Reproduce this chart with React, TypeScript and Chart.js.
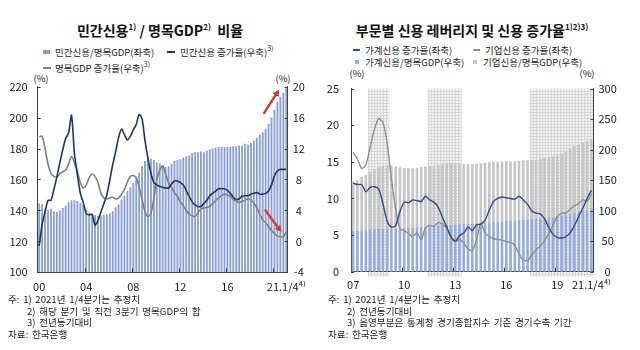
import React, { useEffect, useRef } from 'react';
import { Chart, registerables } from 'chart.js';

Chart.register(...registerables);

const FONT = '"Noto Sans CJK KR", "Noto Sans", sans-serif';

// ---------------- Left chart data (2000Q1 - 2021Q1) ----------------
const L_START_YEAR = 2000;
const L_TICK_LABELS: Record<number, string> = { 0: '00', 16: '04', 32: '08', 48: '12', 64: '16', 84: '21.1/4\u2074\u207E' };
const L_TICK_MARKS = [16, 32, 48, 64, 80];

// 민간신용/명목GDP (left axis, %)
const L_RATIO = [
  144.5, 144, 141, 140.5,
  141, 139.5, 139, 140,
  141.5, 143, 145.5, 146.5,
  146.5, 146, 145, 143.5,
  140.5, 138.5, 137.5, 137,
  136.5, 136.5, 137, 137.5,
  138, 139.5, 142, 144,
  147, 149.5, 152.5, 155,
  157.5, 161, 164.5, 168.5,
  172, 174, 173.5, 172.5,
  171, 170.5, 169, 168,
  168.5, 170, 172, 172.5,
  173, 174, 175, 175.5,
  177, 177.5, 177.5, 178,
  177.5, 178.5, 179.5, 180,
  180.5, 181, 181, 181,
  181, 181, 181.5, 181.5,
  182, 182, 183, 182.5,
  183.5, 185, 187, 189,
  190.5, 193, 196, 200,
  205, 210, 213.5, 216,
  219,
];

// 민간신용 증가율 (right axis, %)
const L_CREDIT_GROWTH = [
  -0.6, 2.2, 3.8, 5.3,
  5.3, 6.7, 8.3, 10.1,
  11.8, 13.3, 14.0, 16.3,
  11.3, 8.6, 6.2, 5.0,
  3.6, 3.4, 3.5, 2.1,
  2.7, 3.8, 4.9, 6.0,
  7.9, 9.9, 11.6, 13.4,
  14.5, 13.8, 13.1, 13.6,
  14.4, 15.1, 16.4, 15.8,
  13.0, 10.7, 8.8, 7.6,
  7.3, 7.1, 7.0, 6.9,
  6.9, 7.4, 7.8, 7.8,
  7.6, 7.3, 6.6, 5.8,
  5.1, 4.7, 4.5, 4.5,
  4.9, 5.3, 5.9, 6.2,
  6.5, 6.8, 6.8, 6.8,
  6.6, 6.2, 5.7, 5.4,
  5.5, 5.8, 5.9, 5.9,
  6.1, 6.2, 6.3, 6.1,
  6.1, 6.2, 6.5, 7.3,
  8.5, 9.1, 9.3, 9.3,
  9.3,
];

// 명목GDP 증가율 (right axis, %)
const L_GDP_GROWTH = [
  13.5, 13.6, 12.0, 10.0,
  8.8, 8.4, 8.3, 8.7,
  9.0, 9.2, 10.0, 11.0,
  10.1, 9.0, 7.6, 6.9,
  7.3, 8.2, 8.7, 8.4,
  7.6, 6.2, 5.6, 5.5,
  5.6, 5.7, 5.5, 5.6,
  6.1, 6.7, 7.7, 8.4,
  8.5, 8.2, 7.0, 5.4,
  3.8, 3.2, 3.6, 5.6,
  8.0, 9.2, 9.8, 8.7,
  7.6, 7.0, 6.3, 5.8,
  5.1, 4.6, 4.0, 3.5,
  3.3, 3.2, 3.7, 4.2,
  4.3, 4.4, 4.5, 4.9,
  5.3, 5.6, 5.9, 6.1,
  6.0, 5.8, 5.4, 5.2,
  5.0, 5.2, 5.3, 5.5,
  5.3, 5.0, 4.3, 3.5,
  2.8, 2.4, 1.9, 1.4,
  1.0, 0.7, 0.6, 0.6,
  1.2,
];

// red annotation arrows, in data space [categoryIndex, value]
const L_ARROWS = [
  { from: [76.5, 203], to: [81.6, 218], axis: 'y' },
  { from: [76.9, 4.0], to: [82.4, 1.2], axis: 'y1' },
];

// ---------------- Right chart data (2007Q1 - 2021Q1) ----------------
const R_START_YEAR = 2007;
const R_TICK_LABELS: Record<number, string> = { 0: '07', 12: '10', 24: '13', 36: '16', 48: '19', 56: '21.1/4\u2074\u207E' };
const R_TICK_MARKS = [12, 24, 36, 48];

// 가계신용/명목GDP (right axis)
const R_HH_RATIO = [
  67, 67.5, 68, 68.5,
  69, 69.5, 70, 70.5,
  71, 71, 71, 71,
  71.5, 72, 72.5, 73,
  73.5, 74, 74.5, 75,
  75.5, 76, 76.5, 77,
  77.5, 78, 78, 78.5,
  79, 79.5, 80, 80.5,
  81, 81.5, 82, 82.5,
  83.5, 84, 84.5, 85,
  85.5, 86, 86.5, 87,
  87.5, 88, 88.5, 89,
  90, 91.5, 93, 94.5,
  96.5, 98.5, 100, 101.5,
  103,
];

// 기업신용/명목GDP (right axis, stacked on household)
const R_CORP_RATIO = [
  81, 83.5, 87, 90.5,
  95, 98.5, 101, 102.5,
  104, 103, 101.5, 100,
  98.5, 97.5, 97, 97.5,
  98, 98.5, 98.5, 98.5,
  99, 99.5, 100.5, 100.5,
  99.5, 98.5, 98.5, 98,
  97.5, 97.5, 97.5, 98,
  99, 98.5, 98, 98,
  97.5, 97, 96.5, 96.5,
  96.5, 96.5, 96.5, 96.5,
  97, 98, 99, 100,
  100.5, 102, 104, 106.5,
  108.5, 110, 111, 112.5,
  113.5,
];

// 가계신용 증가율 (left axis)
const R_HH_GROWTH = [
  12.1, 11.9, 11.9, 10.9,
  11.5, 11.6, 11.3, 9.3,
  6.9, 6.1, 6.3, 8.2,
  9.5, 9.4, 9.8, 9.7,
  9.6, 10.3, 9.8, 9.5,
  8.8, 7.4, 6.1, 4.8,
  4.2, 4.9, 5.3, 6.1,
  5.6, 6.4, 6.5, 7.0,
  8.4, 9.6, 10.0, 10.2,
  10.1, 10.0, 9.9, 10.3,
  9.8, 9.2, 8.3, 8.0,
  7.9, 7.2, 6.0, 5.1,
  4.7, 4.6, 4.8, 5.3,
  6.3, 7.5, 8.7, 10.0,
  11.1,
];

// 기업신용 증가율 (left axis)
const R_CORP_GROWTH = [
  16.3, 15.4, 14.1, 14.6,
  17.0, 19.4, 20.9, 20.4,
  17.5, 12.6, 8.5, 5.9,
  5.6, 5.2, 4.8, 5.3,
  4.4, 6.0, 6.3, 6.2,
  6.7, 6.5, 5.9, 4.6,
  4.1, 4.4, 3.9, 3.1,
  2.9, 4.3, 6.6, 5.3,
  4.8, 4.5, 4.4, 4.3,
  4.1, 4.0, 3.6, 2.4,
  1.6, 1.5, 2.3, 3.0,
  3.5, 4.3, 5.2, 6.4,
  7.5, 8.0, 8.0, 8.5,
  9.0, 9.3, 9.8, 9.6,
  10.6,
];

// 경기수축 기간 (shaded), first/last quarter
const R_RECESSIONS = [
  ['2008Q1', '2009Q1'],
  ['2011Q3', '2013Q2'],
  ['2017Q3', '2021Q1'],
];

const L_FOOTNOTES = ['주: 1) 2021년 1/4분기는 추정치', '2) 해당 분기 및 직전 3분기 명목GDP의 합', '3) 전년동기대비', '자료: 한국은행'];
const R_FOOTNOTES = ['주: 1) 2021년 1/4분기는 추정치', '2) 전년동기대비', '3) 음영부분은 통계청 경기종합지수 기준 경기수축 기간', '자료: 한국은행'];

// ---------------- styles ----------------
const AXIS = '#3c3c3c';
const TICK_COLOR = '#222';
const L_BAR = '#889dd3';
const L_NAVY = '#24306c';
const L_GRAY = '#808080';
const R_BLUE = '#97abdc';
const R_GRAYBAR = '#c6c6c6';
const R_NAVY = '#3a4880';
const R_GRAY = '#8e8e8e';
const RED = '#d03b3b';

function quarterLabels(startYear: number, n: number) {
  const out: string[] = [];
  for (let i = 0; i < n; i++) out.push(`${startYear + Math.floor(i / 4)}Q${(i % 4) + 1}`);
  return out;
}

function tickMarksPlugin(marks: number[]) {
  return {
    id: 'tickMarks',
    afterDraw(chart: any) {
      const { ctx, chartArea, scales } = chart;
      ctx.save();
      ctx.strokeStyle = AXIS;
      ctx.lineWidth = 1;
      ctx.beginPath();
      for (const i of marks) {
        const px = Math.round(scales.x.getPixelForValue(i - 0.5)) + 0.5;
        ctx.moveTo(px, chartArea.bottom);
        ctx.lineTo(px, chartArea.bottom - 4);
      }
      for (const id of Object.keys(scales)) {
        const s = scales[id];
        if (s.axis !== 'y') continue;
        const left = s.position === 'left';
        const ax = left ? chartArea.left : chartArea.right;
        for (const t of s.ticks) {
          const py = Math.round(s.getPixelForValue(t.value)) + 0.5;
          ctx.moveTo(ax, py);
          ctx.lineTo(left ? ax + 3 : ax - 3, py);
        }
      }
      ctx.stroke();
      ctx.restore();
    },
  };
}

function drawArrow(ctx: CanvasRenderingContext2D, x0: number, y0: number, x1: number, y1: number) {
  const a = Math.atan2(y1 - y0, x1 - x0);
  const h = 6.5;
  const w = 3.6;
  ctx.strokeStyle = RED;
  ctx.fillStyle = RED;
  ctx.lineWidth = 2.4;
  ctx.lineCap = 'round';
  ctx.beginPath();
  ctx.moveTo(x0, y0);
  ctx.lineTo(x1 - h * 0.7 * Math.cos(a), y1 - h * 0.7 * Math.sin(a));
  ctx.stroke();
  const bx = x1 - h * Math.cos(a);
  const by = y1 - h * Math.sin(a);
  ctx.beginPath();
  ctx.moveTo(x1, y1);
  ctx.lineTo(bx + w * Math.sin(a), by - w * Math.cos(a));
  ctx.lineTo(bx - w * Math.sin(a), by + w * Math.cos(a));
  ctx.closePath();
  ctx.fill();
}

const arrowsPlugin = {
  id: 'arrows',
  afterDatasetsDraw(chart: any) {
    const { ctx, scales } = chart;
    ctx.save();
    for (const ar of L_ARROWS) {
      const ys = scales[ar.axis];
      drawArrow(
        ctx,
        scales.x.getPixelForValue(ar.from[0]),
        ys.getPixelForValue(ar.from[1]),
        scales.x.getPixelForValue(ar.to[0]),
        ys.getPixelForValue(ar.to[1]),
      );
    }
    ctx.restore();
  },
};

function makeShadePlugin(labels: string[]) {
  return {
    id: 'shade',
    beforeDraw(chart: any) {
      const { ctx, chartArea, scales } = chart;
      const c = document.createElement('canvas');
      c.width = 3;
      c.height = 3;
      const g = c.getContext('2d')!;
      g.fillStyle = '#f2f2f2';
      g.fillRect(0, 0, 3, 3);
      g.fillStyle = '#d6d6d6';
      g.fillRect(0, 0, 3, 1);
      g.fillRect(0, 0, 1, 3);
      const pat = ctx.createPattern(c, 'repeat');
      ctx.save();
      ctx.fillStyle = pat;
      for (const [s, e] of R_RECESSIONS) {
        const a = labels.indexOf(s);
        const b = labels.indexOf(e);
        const x0 = scales.x.getPixelForValue(a - 0.5);
        const x1 = scales.x.getPixelForValue(b + 0.5);
        ctx.fillRect(x0, chartArea.top, x1 - x0, chartArea.bottom - chartArea.top + 5);
      }
      ctx.restore();
    },
  };
}

const tickFont = { family: FONT, size: 11 };

function LeftChart() {
  const ref = useRef<HTMLCanvasElement>(null);
  useEffect(() => {
    const labels = quarterLabels(L_START_YEAR, L_RATIO.length);
    const chart = new Chart(ref.current!, {
      type: 'bar',
      data: {
        labels,
        datasets: [
          { type: 'line', label: '민간신용 증가율', data: L_CREDIT_GROWTH, yAxisID: 'y1', borderColor: L_NAVY, borderWidth: 1.6, pointRadius: 0, tension: 0.25, order: 0 } as any,
          { type: 'line', label: '명목GDP 증가율', data: L_GDP_GROWTH, yAxisID: 'y1', borderColor: L_GRAY, borderWidth: 1.6, pointRadius: 0, tension: 0.25, order: 1 } as any,
          { type: 'bar', label: '민간신용/명목GDP', data: L_RATIO, yAxisID: 'y', backgroundColor: L_BAR, barPercentage: 0.62, categoryPercentage: 1, order: 2 } as any,
        ],
      },
      options: {
        responsive: false,
        animation: false,
        layout: { padding: { top: 15, left: 0, right: 0, bottom: 0 } },
        plugins: { legend: { display: false }, tooltip: { enabled: false } },
        scales: {
          x: {
            offset: true,
            grid: { display: false, drawTicks: false },
            border: { display: true, color: AXIS },
            ticks: {
              autoSkip: false, maxRotation: 0, minRotation: 0, padding: 8, font: tickFont, color: TICK_COLOR,
              callback: (_v: any, i: number) => L_TICK_LABELS[i] ?? '',
            },
            afterFit: (s: any) => { s.height = 22.7; },
          },
          y: {
            position: 'left', min: 100, max: 220,
            grid: { display: false, drawTicks: false },
            border: { display: true, color: AXIS },
            ticks: { stepSize: 20, padding: 10, font: tickFont, color: TICK_COLOR },
            afterFit: (s: any) => { s.width = 37.7; },
          },
          y1: {
            position: 'right', min: -4, max: 20,
            grid: { display: false, drawTicks: false },
            border: { display: true, color: AXIS },
            ticks: { stepSize: 4, padding: 5, crossAlign: 'center', font: tickFont, color: TICK_COLOR },
            afterFit: (s: any) => { s.width = 32.3; },
          },
        },
      } as any,
      plugins: [tickMarksPlugin(L_TICK_MARKS), arrowsPlugin],
    });
    return () => chart.destroy();
  }, []);
  return <canvas ref={ref} width={320} height={225} style={{ position: 'absolute', left: 0, top: 70, width: 320, height: 225 }} />;
}

function RightChart() {
  const ref = useRef<HTMLCanvasElement>(null);
  useEffect(() => {
    const labels = quarterLabels(R_START_YEAR, R_HH_RATIO.length);
    const chart = new Chart(ref.current!, {
      type: 'bar',
      data: {
        labels,
        datasets: [
          { type: 'line', label: '가계신용 증가율', data: R_HH_GROWTH, yAxisID: 'y', borderColor: R_NAVY, borderWidth: 1.4, pointRadius: 0, tension: 0.25, order: 0 } as any,
          { type: 'line', label: '기업신용 증가율', data: R_CORP_GROWTH, yAxisID: 'y', borderColor: R_GRAY, borderWidth: 1.4, pointRadius: 0, tension: 0.25, order: 1 } as any,
          { type: 'bar', label: '가계신용/명목GDP', data: R_HH_RATIO, yAxisID: 'y2', stack: 's', backgroundColor: R_BLUE, barPercentage: 0.62, categoryPercentage: 1, order: 2 } as any,
          { type: 'bar', label: '기업신용/명목GDP', data: R_CORP_RATIO, yAxisID: 'y2', stack: 's', backgroundColor: R_GRAYBAR, barPercentage: 0.62, categoryPercentage: 1, order: 3 } as any,
        ],
      },
      options: {
        responsive: false,
        animation: false,
        layout: { padding: { top: 10, left: 0, right: 0, bottom: 0 } },
        plugins: { legend: { display: false }, tooltip: { enabled: false } },
        scales: {
          x: {
            stacked: true,
            offset: true,
            grid: { display: false, drawTicks: false },
            border: { display: true, color: AXIS },
            ticks: {
              autoSkip: false, maxRotation: 0, minRotation: 0, padding: 7, font: tickFont, color: TICK_COLOR,
              callback: (_v: any, i: number) => R_TICK_LABELS[i] ?? '',
            },
            afterFit: (s: any) => { s.height = 23.3; },
          },
          y: {
            position: 'left', min: 0, max: 25, stacked: false,
            grid: { display: false, drawTicks: false },
            border: { display: true, color: AXIS },
            ticks: { stepSize: 5, padding: 12, font: tickFont, color: TICK_COLOR },
            afterFit: (s: any) => { s.width = 31; },
          },
          y2: {
            position: 'right', min: 0, max: 300, stacked: true,
            grid: { display: false, drawTicks: false },
            border: { display: true, color: AXIS },
            ticks: { stepSize: 50, padding: 5, crossAlign: 'center', font: tickFont, color: TICK_COLOR },
            afterFit: (s: any) => { s.width = 46.5; },
          },
        },
      } as any,
      plugins: [makeShadePlugin(labels), tickMarksPlugin(R_TICK_MARKS)],
    });
    return () => chart.destroy();
  }, []);
  return <canvas ref={ref} width={320} height={225} style={{ position: 'absolute', left: 320, top: 70, width: 320, height: 225 }} />;
}

const sup = (t: string, size = 7, top = -5) => (
  <span style={{ fontSize: size, position: 'relative', top, lineHeight: 0 }}>{t}</span>
);

function Text({ x, y, children, size = 9.5, weight = 400, color = '#222', center = false, wordSpacing = 0 }: any) {
  return (
    <div
      style={{
        position: 'absolute',
        left: x,
        top: y - 8,
        height: 16,
        lineHeight: '16px',
        fontSize: size,
        fontWeight: weight,
        color,
        whiteSpace: 'nowrap',
        fontFamily: FONT,
        wordSpacing,
        transform: center ? 'translateX(-50%)' : undefined,
      }}
    >
      {children}
    </div>
  );
}

function Box({ x, y, w, h, color }: any) {
  return <div style={{ position: 'absolute', left: x, top: y, width: w, height: h, background: color }} />;
}

export default function App() {
  return (
    <div style={{ position: 'absolute', left: 0, top: 0, width: 640, height: 350, background: '#fff', overflow: 'hidden', fontFamily: FONT }}>
      {/* Titles */}
      <Text x={160} y={30} size={14} weight={700} color="#111" center>
        민간신용{sup('1)', 8, -6)} / 명목GDP{sup('2)', 8, -6)}&nbsp; 비율
      </Text>
      <Text x={472} y={30} size={14} weight={700} color="#111" center>
        부문별 신용 레버리지 및 신용 증가율{sup('1)2)3)', 8, -6)}
      </Text>

      {/* Left legend */}
      <Box x={43} y={50} w={7} h={4} color={L_BAR} />
      <Text x={55} y={52}>민간신용/명목GDP(좌축)</Text>
      <Box x={167} y={51} w={8} h={2} color={L_NAVY} />
      <Text x={180} y={52}>민간신용 증가율(우축){sup('3)')}</Text>
      <Box x={43} y={67} w={8} h={2} color={L_GRAY} />
      <Text x={55} y={68}>명목GDP 증가율(우축){sup('3)')}</Text>

      {/* Right legend */}
      <Box x={353} y={49} w={7} h={2} color={R_NAVY} />
      <Text x={365} y={50}>가계신용 증가율(좌축)</Text>
      <Box x={473} y={49} w={7} h={2} color={R_GRAY} />
      <Text x={485} y={50}>기업신용 증가율(좌축)</Text>
      <Box x={355} y={60} w={4} h={4} color={R_BLUE} />
      <Text x={365} y={62}>가계신용/명목GDP(우축)</Text>
      <Box x={473} y={60} w={4} h={4} color={R_GRAYBAR} />
      <Text x={483} y={62}>기업신용/명목GDP(우축)</Text>

      {/* (%) unit labels */}
      <Text x={41} y={78} center>(%)</Text>
      <Text x={283} y={78} center>(%)</Text>
      <Text x={357} y={73} center>(%)</Text>
      <Text x={587} y={73} center>(%)</Text>

      <LeftChart />
      <RightChart />

      {/* Footnotes */}
      {L_FOOTNOTES.map((t, i) => (
        <Text key={'l' + i} x={i === 0 || i === 3 ? 8 : 27} y={299 + i * 11.7} size={9.6} wordSpacing={1.5}>{t}</Text>
      ))}
      {R_FOOTNOTES.map((t, i) => (
        <Text key={'r' + i} x={i === 0 || i === 3 ? 328 : 347} y={299 + i * 11.7} size={9.6} wordSpacing={1.5}>{t}</Text>
      ))}
    </div>
  );
}
